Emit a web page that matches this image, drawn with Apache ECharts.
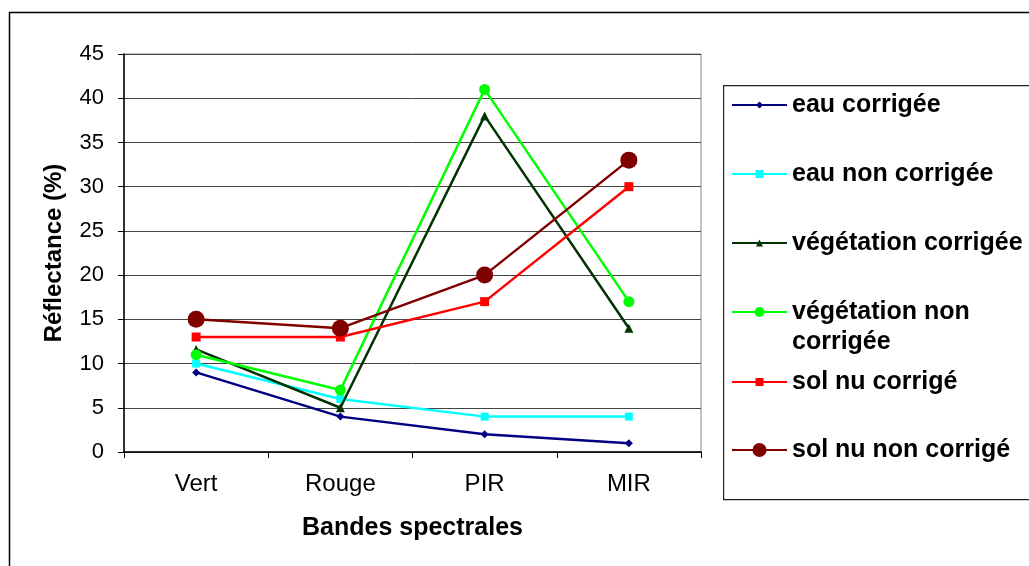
<!DOCTYPE html>
<html>
<head>
<meta charset="utf-8">
<script src="https://cdn.jsdelivr.net/npm/echarts@6/dist/echarts.min.js"></script>
<style>
  html, body { margin: 0; padding: 0; background: #fff; }
  #chart { width: 1029px; height: 566px; }
</style>
</head>
<body>
<div id="chart"></div>
<script>
const bands = ['Vert', 'Rouge', 'PIR', 'MIR']
const yTicks = [0, 5, 10, 15, 20, 25, 30, 35, 40, 45]

const eauCorrigee = [9, 4, 2, 1]
const eauNonCorrigee = [10, 6, 4, 4]
const vegCorrigee = [11.6, 5, 38, 14]
const vegNonCorrigee = [11, 7, 41, 17]
const solCorrige = [13, 13, 17, 30]
const solNonCorrige = [15, 14, 20, 33]

const names = ['eau corrigée', 'eau non corrigée', 'végétation corrigée',
  'végétation non corrigée', 'sol nu corrigé', 'sol nu non corrigé']
const values = [eauCorrigee, eauNonCorrigee, vegCorrigee, vegNonCorrigee, solCorrige, solNonCorrige]
const colors = ['#000080', '#00ffff', '#003300', '#00ff00', '#ff0000', '#800000']
const symbols = ['diamond', 'rect', 'triangle', 'circle', 'rect', 'circle']
const symbolSizes = [8, 8, 9, 11, 9, 17]
const legendSizes = [7, 8, 7, 10, 8, 14]
const legendCenters = [105, 174, 243, 312, 382, 450]

const font = '"Liberation Sans", Arial, sans-serif'

const chart = echarts.init(document.getElementById('chart'), null, { renderer: 'canvas' })

const series = names.map((n, i) => ({
  name: n,
  type: 'line',
  data: values[i],
  symbol: symbols[i],
  symbolSize: symbolSizes[i],
  showAllSymbol: true,
  animation: false,
  color: colors[i],
  lineStyle: { color: colors[i], width: 2.5 },
  itemStyle: { color: colors[i] },
  z: 3 + i,
}))

// one legend per item so the spacing can follow the original box
const legends = names.map((n, i) => {
  const twoLines = n === 'végétation non corrigée'
  return {
    data: [n],
    left: 731,
    top: twoLines ? legendCenters[i] - 45 : legendCenters[i] - 14,
    padding: 0,
    itemWidth: 55,
    itemHeight: legendSizes[i] / 0.8,
    itemGap: 0,
    selectedMode: false,
    formatter: twoLines ? '\nvégétation non\ncorrigée' : '{name}',
    textStyle: {
      fontFamily: font,
      fontSize: 25,
      fontWeight: 'bold',
      color: '#000',
      lineHeight: twoLines ? 30 : 28,
    },
  }
})

const options = {
  backgroundColor: '#fff',
  animation: false,
  textStyle: { fontFamily: font },
  grid: {
    left: 124,
    right: 328,
    top: 54,
    bottom: 114,
    show: true,
    borderColor: '#888',
    borderWidth: 1,
    backgroundColor: '#fff',
  },
  legend: legends,
  xAxis: {
    type: 'category',
    data: bands,
    boundaryGap: true,
    name: 'Bandes spectrales',
    nameLocation: 'middle',
    nameGap: 64,
    nameTextStyle: { fontFamily: font, fontSize: 25, fontWeight: 'bold', color: '#000' },
    axisLine: { lineStyle: { color: '#000', width: 1.5 } },
    axisTick: { show: true, length: 6, lineStyle: { color: '#000' } },
    axisLabel: { fontFamily: font, fontSize: 24, color: '#000', margin: 20 },
    splitLine: { show: false },
  },
  yAxis: {
    type: 'value',
    min: 0,
    max: 45,
    interval: 5,
    name: 'Réflectance (%)',
    nameLocation: 'middle',
    nameGap: 58,
    nameTextStyle: { fontFamily: font, fontSize: 24, fontWeight: 'bold', color: '#000' },
    axisLine: { show: true, lineStyle: { color: '#000', width: 1.5 } },
    axisTick: { show: true, inside: false, length: 6, lineStyle: { color: '#000' } },
    axisLabel: {
      fontFamily: font, fontSize: 22, color: '#000', margin: 20,
      formatter: (v) => yTicks.includes(v) ? String(v) : '',
    },
    splitLine: { show: true, lineStyle: { color: '#444', width: 1 } },
  },
  graphic: [
    {
      type: 'rect',
      left: 7,
      top: 10,
      shape: { width: 1040, height: 570 },
      style: { fill: 'none', stroke: '#000', lineWidth: 1.5 },
      silent: true,
      z: -10,
    },
    {
      type: 'rect',
      left: 723,
      top: 85,
      shape: { width: 320, height: 414 },
      style: { fill: '#fff', stroke: '#222', lineWidth: 1.2 },
      silent: true,
      z: -5,
    },
  ],
  series,
}

chart.setOption(options)
</script>
</body>
</html>
